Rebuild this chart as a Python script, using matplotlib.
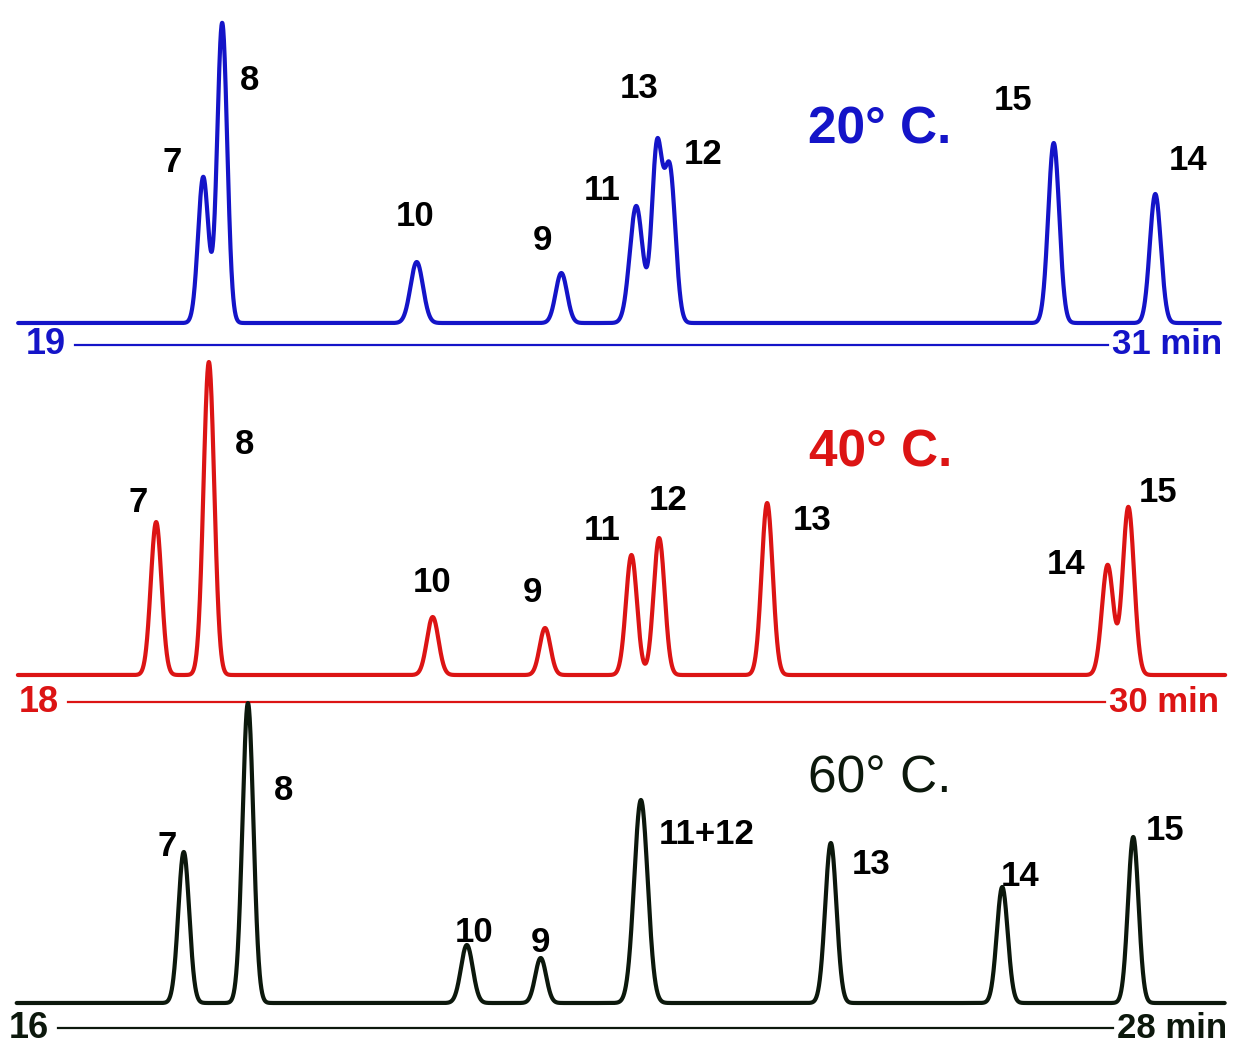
import numpy as np
import matplotlib.pyplot as plt

plt.rcParams['font.family'] = ['Liberation Sans', 'DejaVu Sans']

# --- 20 C run (blue) ---
t20_times = [20.49, 20.71, 22.97, 24.65, 25.52, 25.76, 25.91, 30.37, 31.55]
t20_heights = [146, 300, 61, 50, 117, 172, 152, 180, 129]
t20_widths = [0.06, 0.058, 0.072, 0.066, 0.075, 0.06, 0.065, 0.064, 0.064]
t20_labels = ['7', '8', '10', '9', '11', '13', '12', '15', '14']
t20_lab_t = [20.13, 21.03, 22.95, 24.43, 25.12, 25.55, 26.30, 29.90, 31.93]
t20_lab_h = [160, 243, 106, 83, 133, 235, 168, 223, 163]

# --- 40 C run (red) ---
t40_times = [19.02, 19.63, 22.22, 23.52, 24.52, 24.84, 26.09, 30.03, 30.27]
t40_heights = [153, 313, 58, 47, 120, 137, 172, 110, 168]
t40_widths = [0.062, 0.062, 0.067, 0.062, 0.064, 0.064, 0.064, 0.066, 0.066]
t40_labels = ['7', '8', '10', '9', '11', '12', '13', '14', '15']
t40_lab_t = [18.81, 20.04, 22.21, 23.37, 24.18, 24.94, 26.61, 29.55, 30.61]
t40_lab_h = [172, 231, 92, 82, 145, 175, 155, 110, 183]

# --- 60 C run (black) ---
t60_times = [17.43, 18.16, 20.65, 21.49, 22.63, 24.79, 26.74, 28.23]
t60_heights = [151, 300, 58, 45, 203, 160, 116, 166]
t60_widths = [0.062, 0.062, 0.067, 0.062, 0.077, 0.064, 0.062, 0.06]
t60_labels = ['7', '8', '10', '9', '11+12', '13', '14', '15']
t60_lab_t = [17.24, 18.57, 20.73, 21.49, 23.38, 25.25, 26.94, 28.59]
t60_lab_h = [156, 213, 71, 61, 168, 138, 127, 172]

runs = [
    dict(times=t20_times, heights=t20_heights, widths=t20_widths,
         labels=t20_labels, lab_t=t20_lab_t, lab_h=t20_lab_h,
         title='20° C.', title_t=28.35, title_h=193, title_w='bold',
         start=19, end=31, base=(18.34, 32.30),
         xlim=(18.129, 32.499), ylim=(-722, 323), axis_y=-22,
         color='#1414c8', end_w='bold'),
    dict(times=t40_times, heights=t40_heights, widths=t40_widths,
         labels=t40_labels, lab_t=t40_lab_t, lab_h=t40_lab_h,
         title='40° C.', title_t=27.40, title_h=222, title_w='bold',
         start=18, end=30, base=(17.42, 31.39),
         xlim=(17.213, 31.527), ylim=(-370, 675), axis_y=-27,
         color='#dc1414', end_w='bold'),
    dict(times=t60_times, heights=t60_heights, widths=t60_widths,
         labels=t60_labels, lab_t=t60_lab_t, lab_h=t60_lab_h,
         title='60° C.', title_t=25.35, title_h=224, title_w='normal',
         start=16, end=28, base=(15.53, 29.27),
         xlim=(15.340, 29.410), ylim=(-42, 1003), axis_y=-25,
         color='#0c180c', end_w='bold'),
]


def signal(t, times, heights, widths):
    y = np.zeros_like(t)
    for c, h, w in zip(times, heights, widths):
        y += h * np.exp(-0.5 * ((t - c) / w) ** 2)
    return y


fig = plt.figure(figsize=(12.37, 10.45), dpi=100)

for run in runs:
    ax = fig.add_axes([0, 0, 1, 1])
    ax.patch.set_alpha(0)
    ax.set_xlim(*run['xlim'])
    ax.set_ylim(*run['ylim'])
    ax.axis('off')
    col = run['color']

    t = np.linspace(run['base'][0], run['base'][1], 6000)
    ax.plot(t, signal(t, run['times'], run['heights'], run['widths']),
            color=col, lw=3.0, solid_capstyle='round', solid_joinstyle='round')

    # time axis
    ax.plot([run['start'], run['end']], [run['axis_y'], run['axis_y']],
            color=col, lw=1.6)
    ax.text(run['start'] - 0.1, run['axis_y'], str(run['start']),
            color=col, fontsize=26, fontweight=run['end_w'],
            ha='right', va='center')
    ax.text(run['end'] + 0.05, run['axis_y'], f"{run['end']} min",
            color=col, fontsize=25, fontweight=run['end_w'],
            ha='left', va='center')

    for lab, lt, lh in zip(run['labels'], run['lab_t'], run['lab_h']):
        ax.text(lt, lh, lab, fontsize=25, fontweight='bold', color='black',
                ha='center', va='center')

    ax.text(run['title_t'], run['title_h'], run['title'], fontsize=37,
            fontweight=run['title_w'], color=col, ha='center', va='center')

fig.savefig('out.png', dpi=100)
